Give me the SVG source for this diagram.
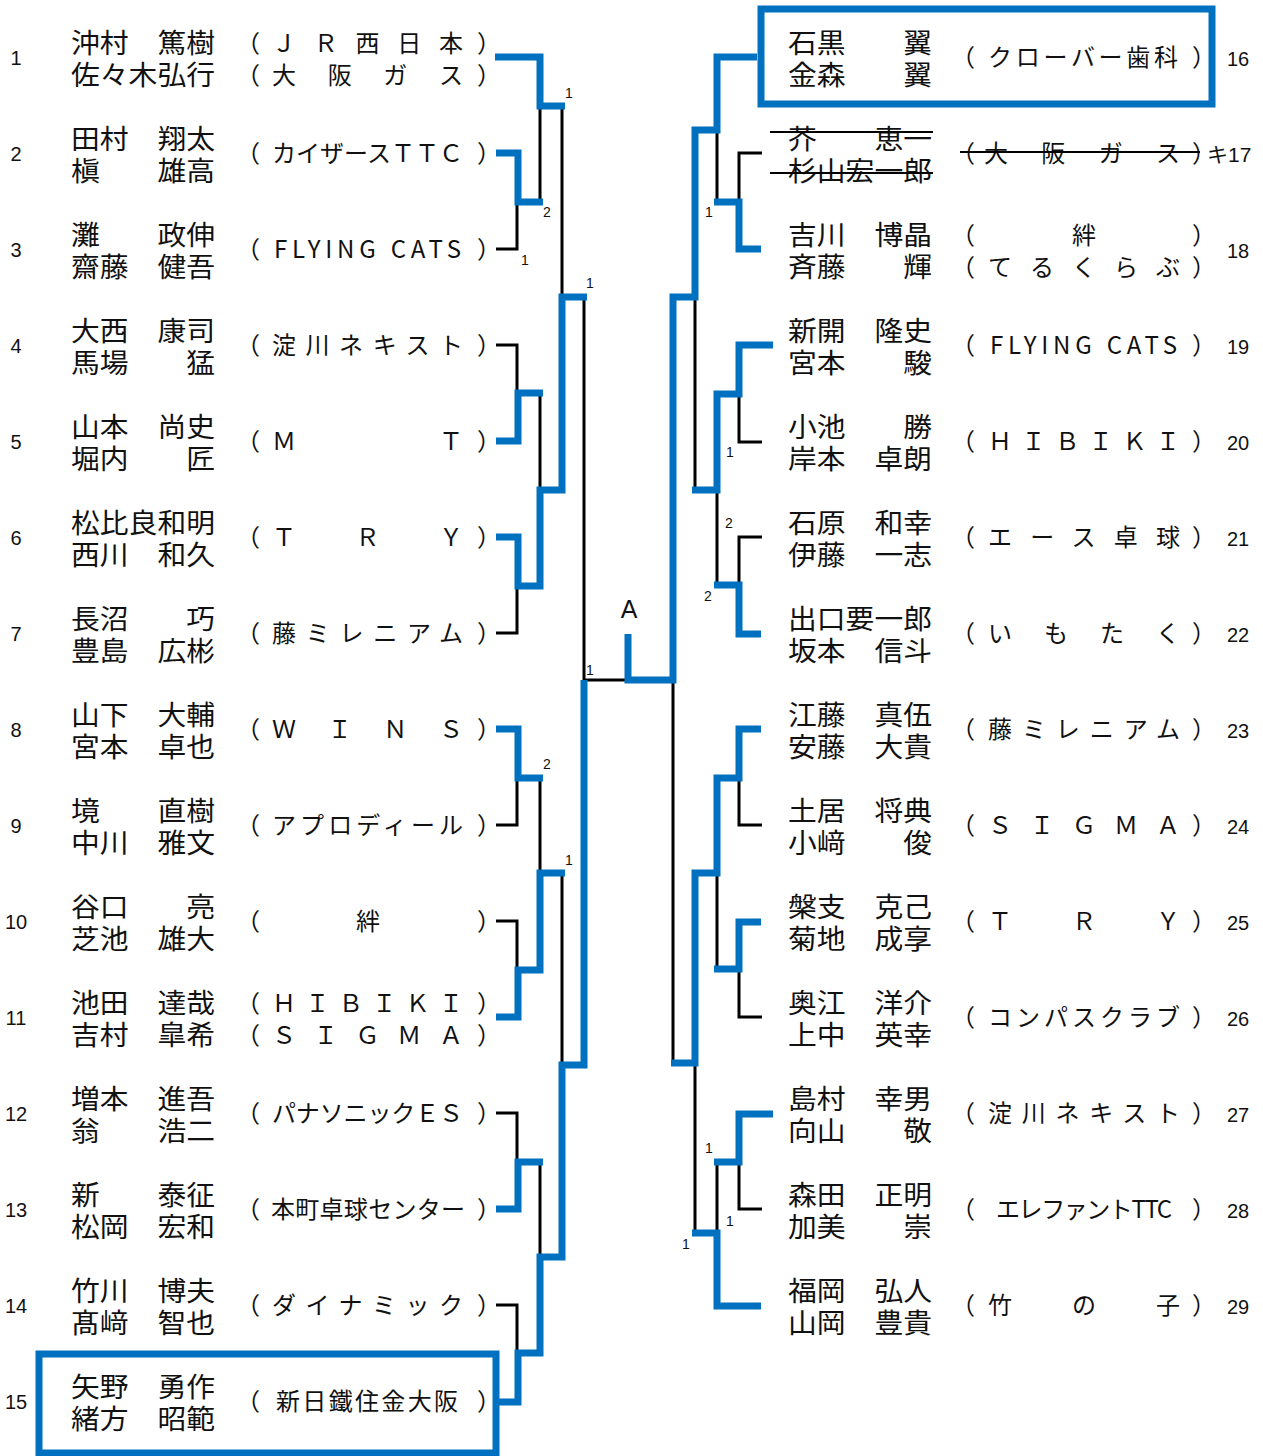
<svg xmlns="http://www.w3.org/2000/svg" width="1263" height="1456" viewBox="0 0 1263 1456">
<style>
.nm{font-family:"Noto Sans CJK JP","Noto Sans CJK SC",sans-serif;font-size:27px;fill:#111}
.tm{font-family:"Noto Sans CJK JP","Noto Sans CJK SC",sans-serif;font-size:24px;fill:#111}
.no{font-family:"Liberation Sans","Noto Sans CJK JP",sans-serif;font-size:20px;fill:#111;text-anchor:middle}
.lb{font-family:"Liberation Sans",sans-serif;font-size:14px;fill:#111}
.bk{fill:none;stroke:#000;stroke-width:3}
.bl{fill:none;stroke:#0070C0;stroke-width:7;stroke-linejoin:miter}
.box{fill:none;stroke:#0070C0;stroke-width:7}
.st{stroke:#000;stroke-width:2}
.mid{text-anchor:middle}
</style>
<rect width="1263" height="1456" fill="#fff"/>
<g id="connectors">
<path class="bk" d="M496,249 H517 V202 M540,106 V202 M562,106 V297 M496,345 H517 V393 M540,393 V490 M496,633 H517 V586 M584,297 V680 H628 M496,825 H517 V778 M540,778 V873 M496,921 H517 V970 M562,873 V1065 M496,1113 H517 V1162 M540,1162 V1257 M496,1305 H517 V1353"/>
<path class="bk" d="M717,130 V202 M762,153 H739 V202 M695,297 V490 M762,442 H739 V394 M717,490 V585 M762,537 H739 V585 M673,680 V1063 M762,825 H739 V778 M717,873 V969 M762,1017 H739 V969 M695,1063 V1233 M717,1162 V1233 M762,1209 H739 V1162"/>
<path class="bl" d="M495,57 H540 V106 H565"/>
<path class="bl" d="M496,153 H518 V202 H543"/>
<path class="bl" d="M496,441 H518 V393 H543"/>
<path class="bl" d="M496,537 H518 V586 H540 V490 H562 V297 H587"/>
<path class="bl" d="M496,729 H518 V778 H543"/>
<path class="bl" d="M496,1017 H518 V970 H540 V873 H565"/>
<path class="bl" d="M496,1209 H518 V1162 H543"/>
<path class="bl" d="M499,1402 H518 V1353 H540 V1257 H562 V1065 H584 V680"/>
<path class="bl" d="M757,57 H717 V130 H695 V297 H673 V680 H628 V634"/>
<path class="bl" d="M761,249 H739 V202 H714"/>
<path class="bl" d="M773,345 H739 V394 H717 V490 H692"/>
<path class="bl" d="M761,634 H739 V585 H714"/>
<path class="bl" d="M761,729 H739 V778 H717 V873 H695 V1063 H671"/>
<path class="bl" d="M761,922 H739 V969 H714"/>
<path class="bl" d="M773,1114 H739 V1162 H714"/>
<path class="bl" d="M761,1306 H717 V1233 H692"/>
<text class="lb" x="565" y="98">1</text>
<text class="lb" x="543" y="217">2</text>
<text class="lb" x="521" y="265">1</text>
<text class="lb" x="586" y="288">1</text>
<text class="lb" x="586" y="675">1</text>
<text class="lb" x="543" y="769">2</text>
<text class="lb" x="565" y="865">1</text>
<text class="lb" x="705" y="217">1</text>
<text class="lb" x="726" y="457">1</text>
<text class="lb" x="725" y="528">2</text>
<text class="lb" x="704" y="601">2</text>
<text class="lb" x="705" y="1153">1</text>
<text class="lb" x="726" y="1226">1</text>
<text class="lb" x="682" y="1249">1</text>
<text x="629" y="618" font-family="Liberation Sans, sans-serif" font-size="25" text-anchor="middle" fill="#111">A</text>
</g>
<g id="e1">
<text class="no" x="16" y="65">1</text>
<text class="nm" x="71" y="53" textLength="144" lengthAdjust="spacingAndGlyphs">沖村　篤樹</text>
<text class="nm" x="71" y="85" textLength="144" lengthAdjust="spacingAndGlyphs">佐々木弘行</text>
<text class="tm" x="236" y="51.5">（</text><text class="tm" x="272" y="51.5" textLength="191" lengthAdjust="spacing">ＪＲ西日本</text><text class="tm" x="477" y="51.5">）</text>
<text class="tm" x="236" y="83.5">（</text><text class="tm" x="272" y="83.5" textLength="191" lengthAdjust="spacing">大阪ガス</text><text class="tm" x="477" y="83.5">）</text>
</g>
<g id="e2">
<text class="no" x="16" y="161">2</text>
<text class="nm" x="71" y="149" textLength="144" lengthAdjust="spacingAndGlyphs">田村　翔太</text>
<text class="nm" x="71" y="181" textLength="144" lengthAdjust="spacingAndGlyphs">槇　　雄高</text>
<text class="tm" x="236" y="162">（</text><text class="tm" x="272" y="162" textLength="191" lengthAdjust="spacing">カイザースＴＴＣ</text><text class="tm" x="477" y="162">）</text>
</g>
<g id="e3">
<text class="no" x="16" y="257">3</text>
<text class="nm" x="71" y="245" textLength="144" lengthAdjust="spacingAndGlyphs">灘　　政伸</text>
<text class="nm" x="71" y="277" textLength="144" lengthAdjust="spacingAndGlyphs">齋藤　健吾</text>
<text class="tm" x="236" y="258">（</text><text class="tm" x="274" y="258" textLength="187" lengthAdjust="spacing">FLYING CATS</text><text class="tm" x="477" y="258">）</text>
</g>
<g id="e4">
<text class="no" x="16" y="353">4</text>
<text class="nm" x="71" y="341" textLength="144" lengthAdjust="spacingAndGlyphs">大西　康司</text>
<text class="nm" x="71" y="373" textLength="144" lengthAdjust="spacingAndGlyphs">馬場　　猛</text>
<text class="tm" x="236" y="354">（</text><text class="tm" x="272" y="354" textLength="191" lengthAdjust="spacing">淀川ネキスト</text><text class="tm" x="477" y="354">）</text>
</g>
<g id="e5">
<text class="no" x="16" y="449">5</text>
<text class="nm" x="71" y="437" textLength="144" lengthAdjust="spacingAndGlyphs">山本　尚史</text>
<text class="nm" x="71" y="469" textLength="144" lengthAdjust="spacingAndGlyphs">堀内　　匠</text>
<text class="tm" x="236" y="450">（</text><text class="tm" x="272" y="450" textLength="191" lengthAdjust="spacing">ＭＴ</text><text class="tm" x="477" y="450">）</text>
</g>
<g id="e6">
<text class="no" x="16" y="545">6</text>
<text class="nm" x="71" y="533" textLength="144" lengthAdjust="spacingAndGlyphs">松比良和明</text>
<text class="nm" x="71" y="565" textLength="144" lengthAdjust="spacingAndGlyphs">西川　和久</text>
<text class="tm" x="236" y="546">（</text><text class="tm" x="272" y="546" textLength="191" lengthAdjust="spacing">ＴＲＹ</text><text class="tm" x="477" y="546">）</text>
</g>
<g id="e7">
<text class="no" x="16" y="641">7</text>
<text class="nm" x="71" y="629" textLength="144" lengthAdjust="spacingAndGlyphs">長沼　　巧</text>
<text class="nm" x="71" y="661" textLength="144" lengthAdjust="spacingAndGlyphs">豊島　広彬</text>
<text class="tm" x="236" y="642">（</text><text class="tm" x="272" y="642" textLength="191" lengthAdjust="spacing">藤ミレニアム</text><text class="tm" x="477" y="642">）</text>
</g>
<g id="e8">
<text class="no" x="16" y="737">8</text>
<text class="nm" x="71" y="725" textLength="144" lengthAdjust="spacingAndGlyphs">山下　大輔</text>
<text class="nm" x="71" y="757" textLength="144" lengthAdjust="spacingAndGlyphs">宮本　卓也</text>
<text class="tm" x="236" y="738">（</text><text class="tm" x="272" y="738" textLength="191" lengthAdjust="spacing">ＷＩＮＳ</text><text class="tm" x="477" y="738">）</text>
</g>
<g id="e9">
<text class="no" x="16" y="833">9</text>
<text class="nm" x="71" y="821" textLength="144" lengthAdjust="spacingAndGlyphs">境　　直樹</text>
<text class="nm" x="71" y="853" textLength="144" lengthAdjust="spacingAndGlyphs">中川　雅文</text>
<text class="tm" x="236" y="834">（</text><text class="tm" x="272" y="834" textLength="191" lengthAdjust="spacing">アプロディール</text><text class="tm" x="477" y="834">）</text>
</g>
<g id="e10">
<text class="no" x="16" y="929">10</text>
<text class="nm" x="71" y="917" textLength="144" lengthAdjust="spacingAndGlyphs">谷口　　亮</text>
<text class="nm" x="71" y="949" textLength="144" lengthAdjust="spacingAndGlyphs">芝池　雄大</text>
<text class="tm" x="236" y="930">（</text><text class="tm mid" x="368" y="930">絆</text><text class="tm" x="477" y="930">）</text>
</g>
<g id="e11">
<text class="no" x="16" y="1025">11</text>
<text class="nm" x="71" y="1013" textLength="144" lengthAdjust="spacingAndGlyphs">池田　達哉</text>
<text class="nm" x="71" y="1045" textLength="144" lengthAdjust="spacingAndGlyphs">吉村　皐希</text>
<text class="tm" x="236" y="1011.5">（</text><text class="tm" x="272" y="1011.5" textLength="191" lengthAdjust="spacing">ＨＩＢＩＫＩ</text><text class="tm" x="477" y="1011.5">）</text>
<text class="tm" x="236" y="1043.5">（</text><text class="tm" x="272" y="1043.5" textLength="191" lengthAdjust="spacing">ＳＩＧＭＡ</text><text class="tm" x="477" y="1043.5">）</text>
</g>
<g id="e12">
<text class="no" x="16" y="1121">12</text>
<text class="nm" x="71" y="1109" textLength="144" lengthAdjust="spacingAndGlyphs">増本　進吾</text>
<text class="nm" x="71" y="1141" textLength="144" lengthAdjust="spacingAndGlyphs">翁　　浩二</text>
<text class="tm" x="236" y="1122">（</text><text class="tm" x="272" y="1122" textLength="191" lengthAdjust="spacing">パナソニックＥＳ</text><text class="tm" x="477" y="1122">）</text>
</g>
<g id="e13">
<text class="no" x="16" y="1217">13</text>
<text class="nm" x="71" y="1205" textLength="144" lengthAdjust="spacingAndGlyphs">新　　泰征</text>
<text class="nm" x="71" y="1237" textLength="144" lengthAdjust="spacingAndGlyphs">松岡　宏和</text>
<text class="tm" x="236" y="1218">（</text><text class="tm" x="271" y="1218" textLength="194" lengthAdjust="spacing">本町卓球センター</text><text class="tm" x="477" y="1218">）</text>
</g>
<g id="e14">
<text class="no" x="16" y="1313">14</text>
<text class="nm" x="71" y="1301" textLength="144" lengthAdjust="spacingAndGlyphs">竹川　博夫</text>
<text class="nm" x="71" y="1333" textLength="144" lengthAdjust="spacingAndGlyphs">髙﨑　智也</text>
<text class="tm" x="236" y="1314">（</text><text class="tm" x="272" y="1314" textLength="191" lengthAdjust="spacing">ダイナミック</text><text class="tm" x="477" y="1314">）</text>
</g>
<g id="e15">
<rect class="box" x="39" y="1354" width="457" height="99"/>
<text class="no" x="16" y="1409">15</text>
<text class="nm" x="71" y="1397" textLength="144" lengthAdjust="spacingAndGlyphs">矢野　勇作</text>
<text class="nm" x="71" y="1429" textLength="144" lengthAdjust="spacingAndGlyphs">緒方　昭範</text>
<text class="tm" x="236" y="1410">（</text><text class="tm" x="276" y="1410" textLength="182" lengthAdjust="spacing">新日鐵住金大阪</text><text class="tm" x="477" y="1410">）</text>
</g>
<g id="e16">
<rect class="box" x="761" y="9" width="451" height="95"/>
<text class="nm" x="788" y="53" textLength="144" lengthAdjust="spacingAndGlyphs">石黒　　翼</text>
<text class="nm" x="788" y="85" textLength="144" lengthAdjust="spacingAndGlyphs">金森　　翼</text>
<text class="tm" x="951" y="66">（</text><text class="tm" x="988" y="66" textLength="190" lengthAdjust="spacing">クローバー歯科</text><text class="tm" x="1192" y="66">）</text>
<text class="no" x="1238" y="66">16</text>
</g>
<g id="e17">
<text class="nm" x="788" y="149" textLength="144" lengthAdjust="spacingAndGlyphs">芥　　恵一</text>
<text class="nm" x="788" y="181" textLength="144" lengthAdjust="spacingAndGlyphs">杉山宏一郎</text>
<text class="tm" x="951" y="162">（</text><text class="tm" x="984" y="162" textLength="196" lengthAdjust="spacing">大阪ガス</text><text class="tm" x="1192" y="162">）</text>
<line class="st" x1="770" y1="132" x2="933" y2="132"/>
<line class="st" x1="770" y1="173" x2="933" y2="173"/>
<line class="st" x1="960" y1="152" x2="1200" y2="152"/>
<text class="no" x="1207" y="162" style="text-anchor:start;font-size:21px">キ17</text>
</g>
<g id="e18">
<text class="nm" x="788" y="245" textLength="144" lengthAdjust="spacingAndGlyphs">吉川　博晶</text>
<text class="nm" x="788" y="277" textLength="144" lengthAdjust="spacingAndGlyphs">斉藤　　輝</text>
<text class="tm" x="951" y="243.5">（</text><text class="tm mid" x="1084" y="243.5">絆</text><text class="tm" x="1192" y="243.5">）</text>
<text class="tm" x="951" y="275.5">（</text><text class="tm" x="988" y="275.5" textLength="192" lengthAdjust="spacing">てるくらぶ</text><text class="tm" x="1192" y="275.5">）</text>
<text class="no" x="1238" y="258">18</text>
</g>
<g id="e19">
<text class="nm" x="788" y="341" textLength="144" lengthAdjust="spacingAndGlyphs">新開　隆史</text>
<text class="nm" x="788" y="373" textLength="144" lengthAdjust="spacingAndGlyphs">宮本　　駿</text>
<text class="tm" x="951" y="354">（</text><text class="tm" x="990" y="354" textLength="187" lengthAdjust="spacing">FLYING CATS</text><text class="tm" x="1192" y="354">）</text>
<text class="no" x="1238" y="354">19</text>
</g>
<g id="e20">
<text class="nm" x="788" y="437" textLength="144" lengthAdjust="spacingAndGlyphs">小池　　勝</text>
<text class="nm" x="788" y="469" textLength="144" lengthAdjust="spacingAndGlyphs">岸本　卓朗</text>
<text class="tm" x="951" y="450">（</text><text class="tm" x="988" y="450" textLength="192" lengthAdjust="spacing">ＨＩＢＩＫＩ</text><text class="tm" x="1192" y="450">）</text>
<text class="no" x="1238" y="450">20</text>
</g>
<g id="e21">
<text class="nm" x="788" y="533" textLength="144" lengthAdjust="spacingAndGlyphs">石原　和幸</text>
<text class="nm" x="788" y="565" textLength="144" lengthAdjust="spacingAndGlyphs">伊藤　一志</text>
<text class="tm" x="951" y="546">（</text><text class="tm" x="988" y="546" textLength="192" lengthAdjust="spacing">エース卓球</text><text class="tm" x="1192" y="546">）</text>
<text class="no" x="1238" y="546">21</text>
</g>
<g id="e22">
<text class="nm" x="788" y="629" textLength="144" lengthAdjust="spacingAndGlyphs">出口要一郎</text>
<text class="nm" x="788" y="661" textLength="144" lengthAdjust="spacingAndGlyphs">坂本　信斗</text>
<text class="tm" x="951" y="642">（</text><text class="tm" x="988" y="642" textLength="192" lengthAdjust="spacing">いもたく</text><text class="tm" x="1192" y="642">）</text>
<text class="no" x="1238" y="642">22</text>
</g>
<g id="e23">
<text class="nm" x="788" y="725" textLength="144" lengthAdjust="spacingAndGlyphs">江藤　真伍</text>
<text class="nm" x="788" y="757" textLength="144" lengthAdjust="spacingAndGlyphs">安藤　大貴</text>
<text class="tm" x="951" y="738">（</text><text class="tm" x="988" y="738" textLength="192" lengthAdjust="spacing">藤ミレニアム</text><text class="tm" x="1192" y="738">）</text>
<text class="no" x="1238" y="738">23</text>
</g>
<g id="e24">
<text class="nm" x="788" y="821" textLength="144" lengthAdjust="spacingAndGlyphs">土居　将典</text>
<text class="nm" x="788" y="853" textLength="144" lengthAdjust="spacingAndGlyphs">小﨑　　俊</text>
<text class="tm" x="951" y="834">（</text><text class="tm" x="988" y="834" textLength="192" lengthAdjust="spacing">ＳＩＧＭＡ</text><text class="tm" x="1192" y="834">）</text>
<text class="no" x="1238" y="834">24</text>
</g>
<g id="e25">
<text class="nm" x="788" y="917" textLength="144" lengthAdjust="spacingAndGlyphs">槃支　克己</text>
<text class="nm" x="788" y="949" textLength="144" lengthAdjust="spacingAndGlyphs">菊地　成享</text>
<text class="tm" x="951" y="930">（</text><text class="tm" x="988" y="930" textLength="192" lengthAdjust="spacing">ＴＲＹ</text><text class="tm" x="1192" y="930">）</text>
<text class="no" x="1238" y="930">25</text>
</g>
<g id="e26">
<text class="nm" x="788" y="1013" textLength="144" lengthAdjust="spacingAndGlyphs">奥江　洋介</text>
<text class="nm" x="788" y="1045" textLength="144" lengthAdjust="spacingAndGlyphs">上中　英幸</text>
<text class="tm" x="951" y="1026">（</text><text class="tm" x="988" y="1026" textLength="192" lengthAdjust="spacing">コンパスクラブ</text><text class="tm" x="1192" y="1026">）</text>
<text class="no" x="1238" y="1026">26</text>
</g>
<g id="e27">
<text class="nm" x="788" y="1109" textLength="144" lengthAdjust="spacingAndGlyphs">島村　幸男</text>
<text class="nm" x="788" y="1141" textLength="144" lengthAdjust="spacingAndGlyphs">向山　　敬</text>
<text class="tm" x="951" y="1122">（</text><text class="tm" x="988" y="1122" textLength="192" lengthAdjust="spacing">淀川ネキスト</text><text class="tm" x="1192" y="1122">）</text>
<text class="no" x="1238" y="1122">27</text>
</g>
<g id="e28">
<text class="nm" x="788" y="1205" textLength="144" lengthAdjust="spacingAndGlyphs">森田　正明</text>
<text class="nm" x="788" y="1237" textLength="144" lengthAdjust="spacingAndGlyphs">加美　　崇</text>
<text class="tm" x="951" y="1218">（</text><text class="tm" x="996" y="1218" textLength="176" lengthAdjust="spacing">エレファントTTC</text><text class="tm" x="1192" y="1218">）</text>
<text class="no" x="1238" y="1218">28</text>
</g>
<g id="e29">
<text class="nm" x="788" y="1301" textLength="144" lengthAdjust="spacingAndGlyphs">福岡　弘人</text>
<text class="nm" x="788" y="1333" textLength="144" lengthAdjust="spacingAndGlyphs">山岡　豊貴</text>
<text class="tm" x="951" y="1314">（</text><text class="tm" x="988" y="1314" textLength="192" lengthAdjust="spacing">竹の子</text><text class="tm" x="1192" y="1314">）</text>
<text class="no" x="1238" y="1314">29</text>
</g>
</svg>
